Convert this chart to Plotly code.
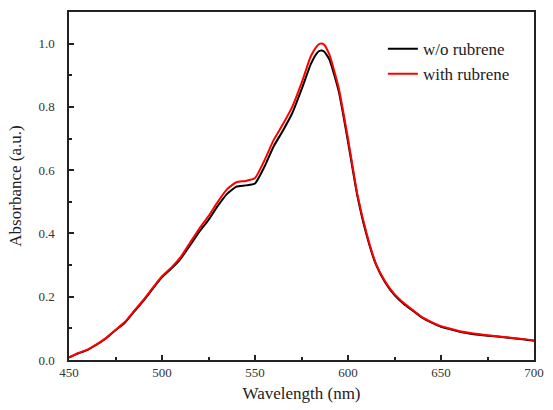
import plotly.graph_objects as go

wavelength = [450, 455, 460, 465, 470, 475, 480, 485, 490, 495, 500, 505, 510, 515, 520,
              525, 530, 535, 540, 545, 550, 555, 560, 565, 570, 575, 580, 583, 585, 587,
              590, 595, 600, 605, 610, 615, 620, 625, 630, 635, 640, 645, 650, 655, 660,
              665, 670, 675, 680, 685, 690, 695, 700]

with_rubrene = [0.008, 0.022, 0.033, 0.050, 0.070, 0.095, 0.120, 0.155, 0.190, 0.228, 0.265,
                0.292, 0.325, 0.370, 0.415, 0.455, 0.500, 0.540, 0.562, 0.566, 0.575, 0.630,
                0.695, 0.745, 0.800, 0.875, 0.960, 0.990, 1.000, 0.998, 0.965, 0.860, 0.700,
                0.525, 0.400, 0.305, 0.248, 0.208, 0.180, 0.157, 0.135, 0.120, 0.107, 0.099,
                0.091, 0.086, 0.082, 0.078, 0.075, 0.072, 0.069, 0.066, 0.062]

wo_rubrene = [0.008, 0.021, 0.032, 0.049, 0.069, 0.094, 0.118, 0.153, 0.187, 0.225, 0.262,
              0.289, 0.320, 0.362, 0.405, 0.443, 0.487, 0.525, 0.548, 0.552, 0.558, 0.610,
              0.675, 0.725, 0.780, 0.855, 0.935, 0.968, 0.978, 0.976, 0.950, 0.850, 0.690,
              0.520, 0.395, 0.302, 0.245, 0.205, 0.177, 0.155, 0.133, 0.118, 0.105, 0.097,
              0.089, 0.084, 0.080, 0.077, 0.074, 0.071, 0.068, 0.065, 0.061]

font_family = "Liberation Serif"

fig = go.Figure()
fig.add_trace(go.Scatter(x=wavelength, y=wo_rubrene, mode="lines", name="w/o rubrene",
                         line=dict(color="#000000", width=2, shape="spline", smoothing=0.5)))
fig.add_trace(go.Scatter(x=wavelength, y=with_rubrene, mode="lines", name="with rubrene",
                         line=dict(color="#ff0000", width=2, shape="spline", smoothing=0.5)))

axis_common = dict(
    showgrid=False, zeroline=False, showline=True, linecolor="#222222", linewidth=1.5,
    mirror=True, ticks="inside", ticklen=5, tickwidth=1.5, tickcolor="#222222",
    tickfont=dict(family=font_family, size=13, color="#333333"),
)

fig.update_xaxes(range=[450, 700], tickvals=[450, 500, 550, 600, 650, 700],
                 minor=dict(ticks="inside", ticklen=3, tickwidth=1.5, tickcolor="#222222", dtick=25),
                 title=dict(text="Wavelength (nm)", font=dict(family=font_family, size=17, color="#222222"), standoff=8),
                 **axis_common)
fig.update_yaxes(range=[0, 1.1], tickvals=[0, 0.2, 0.4, 0.6, 0.8, 1.0], tickformat=".1f",
                 minor=dict(ticks="inside", ticklen=3, tickwidth=1.5, tickcolor="#222222", dtick=0.1),
                 title=dict(text="Absorbance (a.u.)", font=dict(family=font_family, size=17, color="#222222"), standoff=12),
                 ticklabelstandoff=10,
                 **axis_common)

fig.update_layout(
    width=553, height=410,
    margin=dict(l=69, r=9, t=12, b=50),
    plot_bgcolor="white", paper_bgcolor="white",
    font=dict(family=font_family),
    legend=dict(x=0.675, y=0.945, xanchor="left", yanchor="top",
                font=dict(family=font_family, size=17, color="#222222"),
                bgcolor="rgba(0,0,0,0)", tracegroupgap=0, itemwidth=30),
    showlegend=True,
)

fig.write_html("out.html")
